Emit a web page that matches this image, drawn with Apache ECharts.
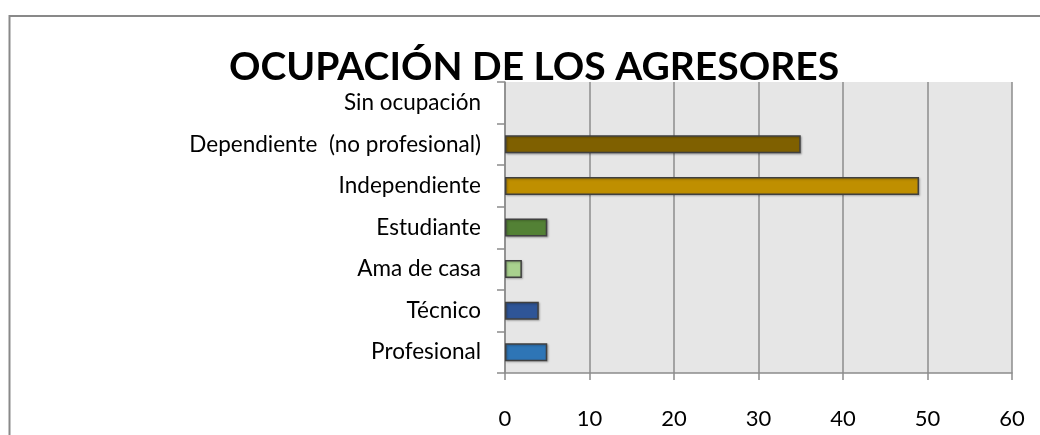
<!DOCTYPE html>
<html>
<head>
<meta charset="utf-8">
<script src="https://cdn.jsdelivr.net/npm/echarts@6/dist/echarts.min.js"></script>
<style>
html,body{margin:0;padding:0;background:#fff;}
#c{width:1040px;height:435px;}
</style>
</head>
<body>
<div id="c"></div>
<script>
var titleText = 'OCUPACIÓN DE LOS AGRESORES';
var categories = ['Profesional', 'Técnico', 'Ama de casa', 'Estudiante', 'Independiente', 'Dependiente  (no profesional)', 'Sin ocupación'];
var values = [5, 4, 2, 5, 49, 35, 0];
var barColors = ['#2e75b6', '#2f5597', '#a9d18e', '#538135', '#bf8f00', '#7f6000', '#7f7f7f'];
var xTicks = [0, 10, 20, 30, 40, 50, 60];

var chart = echarts.init(document.getElementById('c'), null, {renderer: 'canvas'});
var font = 'Lato, "Open Sans", sans-serif';
var gridColor = '#8c8c8c';

chart.setOption({
  animation: false,
  backgroundColor: '#ffffff',
  title: {
    text: titleText,
    left: 529,
    textAlign: 'center',
    top: 43,
    textStyle: {fontFamily: font, fontWeight: 'bold', fontSize: 39, color: '#000'}
  },
  graphic: [{
    type: 'rect',
    shape: {x: 9.5, y: 16, width: 1100, height: 500},
    style: {fill: 'none', stroke: '#898989', lineWidth: 2},
    silent: true,
    z: -1
  }],
  grid: {
    left: 505, right: 28, top: 82, bottom: 62,
    show: true, backgroundColor: '#e6e6e6', borderWidth: 0
  },
  xAxis: {
    type: 'value',
    min: xTicks[0],
    max: xTicks[xTicks.length - 1],
    interval: xTicks[1] - xTicks[0],
    axisLine: {show: true, lineStyle: {color: gridColor, width: 1.5}},
    axisTick: {show: true, length: 7, lineStyle: {color: gridColor, width: 1.5}},
    splitLine: {show: true, lineStyle: {color: gridColor, width: 1.5}},
    axisLabel: {margin: 35, fontFamily: font, fontSize: 22, color: '#000'}
  },
  yAxis: {
    type: 'category',
    data: categories,
    axisLine: {show: true, lineStyle: {color: gridColor, width: 1.5}},
    axisTick: {show: true, length: 8, lineStyle: {color: gridColor, width: 1.5}},
    axisLabel: {margin: 24, fontFamily: font, fontSize: 22.5, color: '#000', padding: [5, 0, 0, 0]}
  },
  series: [{
    type: 'bar',
    barWidth: 18,
    data: values.map(function (v, i) {
      return {value: v, itemStyle: {color: barColors[i], borderWidth: v === 0 ? 0 : 1.5, shadowBlur: v === 0 ? 0 : 2}};
    }),
    itemStyle: {
      borderColor: '#404040', borderWidth: 1.5,
      shadowColor: 'rgba(0,0,0,0.25)', shadowBlur: 2, shadowOffsetX: 1, shadowOffsetY: 1
    }
  }]
});
</script>
</body>
</html>
